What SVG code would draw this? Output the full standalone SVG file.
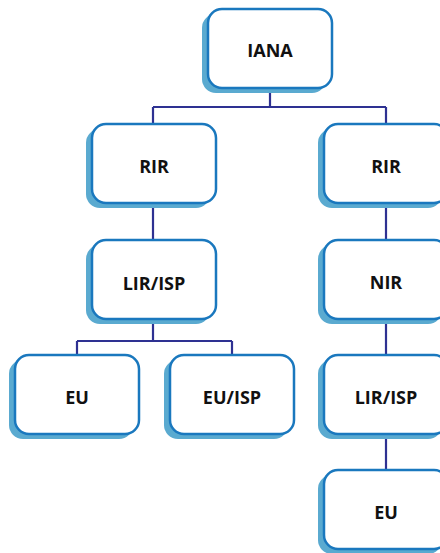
<svg xmlns="http://www.w3.org/2000/svg" width="440" height="553" viewBox="0 0 440 553">
<defs>
<style>
.sh{fill:#5aaad0;}
.bx{fill:#ffffff;stroke:#1a78be;stroke-width:2.5;}
.t{font-family:"Open Sans","Liberation Sans",sans-serif;font-weight:bold;font-size:18px;fill:#111;text-anchor:middle;}
.c{fill:none;stroke:#2e3192;stroke-width:2.2;}
</style>
</defs>
<g id="connectors">
<path class="c" d="M270,88 V107 M153,107 H386 M153,107 V124 M386,107 V124"/>
<path class="c" d="M153,203 V240"/>
<path class="c" d="M153,319 V341 M77,341 H232 M77,341 V355 M232,341 V355"/>
<path class="c" d="M386,203 V240 M386,319 V355 M386,434 V470"/>
</g>
<g id="iana"><rect class="sh" x="202" y="14" width="124" height="79" rx="14"/><rect class="bx" x="208" y="9" width="124" height="79" rx="14"/><text class="t" x="270" y="57">IANA</text></g>
<g id="rir1"><rect class="sh" x="86" y="129" width="124" height="79" rx="14"/><rect class="bx" x="92" y="124" width="124" height="79" rx="14"/><text class="t" x="154" y="173">RIR</text></g>
<g id="rir2"><rect class="sh" x="318" y="129" width="124" height="79" rx="14"/><rect class="bx" x="324" y="124" width="124" height="79" rx="14"/><text class="t" x="386" y="173">RIR</text></g>
<g id="lirisp1"><rect class="sh" x="86" y="245" width="124" height="79" rx="14"/><rect class="bx" x="92" y="240" width="124" height="79" rx="14"/><text class="t" x="154" y="290">LIR/ISP</text></g>
<g id="nir"><rect class="sh" x="318" y="245" width="124" height="79" rx="14"/><rect class="bx" x="324" y="240" width="124" height="79" rx="14"/><text class="t" x="386" y="289">NIR</text></g>
<g id="eu1"><rect class="sh" x="9" y="360" width="124" height="79" rx="14"/><rect class="bx" x="15" y="355" width="124" height="79" rx="14"/><text class="t" x="77" y="404">EU</text></g>
<g id="euisp"><rect class="sh" x="164" y="360" width="124" height="79" rx="14"/><rect class="bx" x="170" y="355" width="124" height="79" rx="14"/><text class="t" x="232" y="404">EU/ISP</text></g>
<g id="lirisp2"><rect class="sh" x="318" y="360" width="124" height="79" rx="14"/><rect class="bx" x="324" y="355" width="124" height="79" rx="14"/><text class="t" x="386" y="404">LIR/ISP</text></g>
<g id="eu2"><rect class="sh" x="318" y="475" width="124" height="79" rx="14"/><rect class="bx" x="324" y="470" width="124" height="79" rx="14"/><text class="t" x="386" y="519">EU</text></g>
</svg>
